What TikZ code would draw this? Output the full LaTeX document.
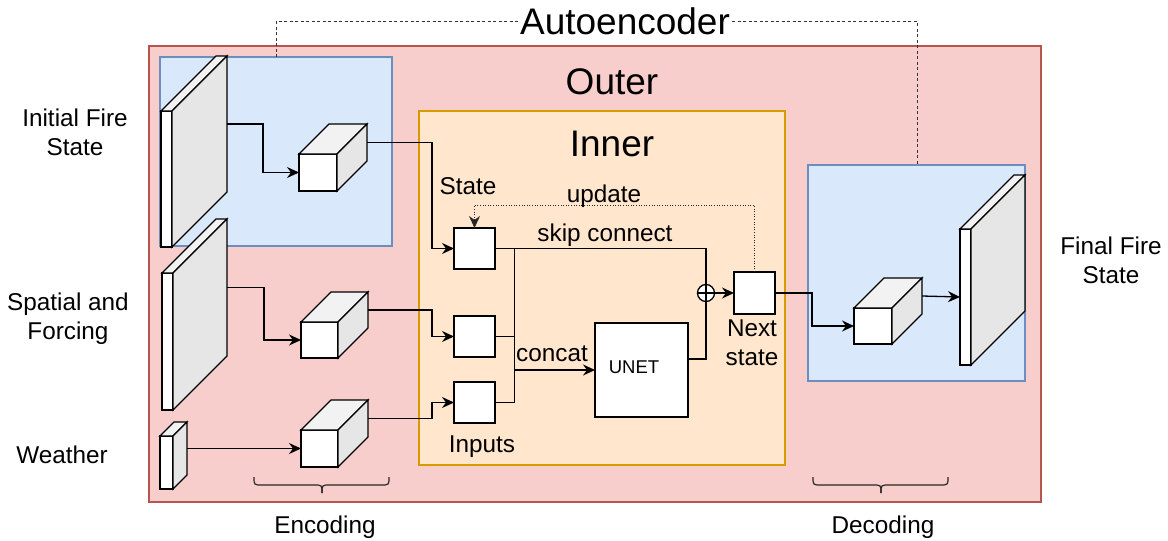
\documentclass[tikz,border=0pt]{standalone}
\usepackage{fontspec}
\setmainfont{Liberation Sans}
\usetikzlibrary{arrows.meta}
\definecolor{redf}{HTML}{F8CECC}
\definecolor{redd}{HTML}{B85450}
\definecolor{bluef}{HTML}{DAE8FC}
\definecolor{blued}{HTML}{6C8EBF}
\definecolor{orf}{HTML}{FFE6CC}
\definecolor{ord}{HTML}{D79B00}
\definecolor{topc}{HTML}{F2F2F2}
\definecolor{sidec}{HTML}{E6E6E6}
\newcommand\boxfaces[2]{%
  \filldraw[topface] (#1.north west) -- ++(#2,-#2) -- ([shift={(#2,-#2)}]#1.north east) -- (#1.north east) -- cycle;
  \filldraw[sideface] (#1.north east) -- ([shift={(#2,-#2)}]#1.north east) -- ([shift={(#2,-#2)}]#1.south east) -- (#1.south east) -- cycle;
  \coordinate (#1r) at ([shift={(#2,-#2)}]#1.east);
}
\begin{document}
\begin{tikzpicture}[x=1pt,y=-1pt,
  lw/.style={line width=1.3pt},
  region/.style={line width=1.1pt, inner sep=0, outer sep=0},
  frontface/.style={draw=black, fill=white, lw, inner sep=0, outer sep=0},
  fsz/.style 2 args={minimum width=#1pt, minimum height=#2pt},
  topface/.style={draw=black, fill=topc, lw},
  sideface/.style={draw=black, fill=sidec, lw},
  sq/.style={draw=black, fill=white, lw, inner sep=0, outer sep=0, minimum width=41pt, minimum height=41pt},
  conn/.style={lw, draw=black},
  tip/.style={-{Stealth[length=12pt,width=11pt,inset=4pt]}},
  arr/.style={lw, draw=black, tip},
  lbl/.style={font=\fontsize{24.3}{29}\selectfont, align=center, inner sep=0},
  lbl1/.style={font=\fontsize{24.3}{29}\selectfont, inner sep=0, text height=17.5pt, text depth=0pt},
  big/.style={font=\fontsize{37}{40}\selectfont, inner sep=0, text height=26.5pt, text depth=0pt},
  brace/.style={line width=1.2pt, draw=black!85}
]
\useasboundingbox (0,0) rectangle (1168,541);

% regions
\filldraw[region, fill=redf, draw=redd] (149,46) rectangle (1041,502);
\filldraw[region, fill=bluef, draw=blued] (160,57) rectangle (392,246);
\filldraw[region, fill=bluef, draw=blued] (808,165) rectangle (1025,381);
\filldraw[region, fill=orf, draw=ord] (419,111) rectangle (785,465);

% autoencoder bracket
\node[big, inner sep=2pt] (tae) at (625,21) {Autoencoder};
\draw[line width=1pt, draw=black!80, dash pattern=on 3pt off 2.5pt] (276,57) -- (276,21) -- (tae.west);
\draw[line width=1pt, draw=black!80, dash pattern=on 3pt off 2.5pt] (tae.east) -- (917,21) -- (917,165);

% slabs and cubes
\node[frontface, fsz={11}{136}] (s1) at (166.5,179) {};
\boxfaces{s1}{55}
\node[frontface, fsz={11}{137}] (s2) at (167.5,341.5) {};
\boxfaces{s2}{54}
\node[frontface, fsz={13}{53}] (s3) at (166.5,462.5) {};
\boxfaces{s3}{14}
\node[frontface, fsz={38}{37}] (c1) at (318,172.5) {};
\boxfaces{c1}{30}
\node[frontface, fsz={37}{36}] (c2) at (319.5,340) {};
\boxfaces{c2}{30}
\node[frontface, fsz={37}{37}] (c3) at (319.5,448.5) {};
\boxfaces{c3}{30}
\node[frontface, fsz={38}{36}] (dc) at (873,326) {};
\boxfaces{dc}{30}
\node[frontface, fsz={11}{136}] (fs) at (965.5,297) {};
\boxfaces{fs}{54}

% inner blocks
\node[sq] (b1) at (474.5,248.5) {};
\node[sq] (b2) at (474.5,336.5) {};
\node[sq] (b3) at (474.5,402.5) {};
\node[draw=black, fill=white, lw, inner sep=0, outer sep=0, minimum width=93pt, minimum height=94pt] (unet) at (641.5,370) {};
\node[font=\fontsize{18.5}{20}\selectfont, inner sep=0, text height=13.3pt, text depth=0pt] (tunet) at (634,367) {UNET};
\node[sq, minimum height=42pt] (nx) at (754.5,293) {};
\node[circle, draw=black, fill=white, lw, inner sep=0, minimum size=17pt] (plus) at (706,293) {};
\draw[conn] (plus.north) -- (plus.south) (plus.west) -- (plus.east);

% encoder connectors
\draw[arr] (s1r) -- ++(36,0) |- (c1.west);
\draw[arr] (s2r) -- ++(37,0) |- (c2.west);
\draw[arr] (s3r) -- (c3.west);
\draw[arr] (c1r) -- ++(65,0) |- (b1.west);
\draw[arr] (c2r) -- ++(64,0) |- (b2.west);
\draw[arr] (c3r) -- ++(64,0) |- (b3.west);

% merge and concat
\coordinate (mtop) at ([xshift=19.5pt]b1.east);
\coordinate (mbot) at ([xshift=19.5pt]b3.east);
\draw[conn] (b1.east) -- (mtop) -- (mbot) -- (b3.east);
\draw[conn] (b2.east) -- (b2.east -| mtop);
\draw[arr] (mtop |- unet.west) -- (unet.west);

% skip connect and output
\draw[conn] (b1.east) -| (plus.north);
\draw[conn] ([yshift=11pt]unet.east) -| (plus.south);
\draw[arr] (plus.east) -- (nx.west);
\draw[line width=1pt, draw=black!85, dash pattern=on 1pt off 1.6pt, tip] (nx.north) -- ++(0,-67) -| (b1.north);

% decoder connectors
\draw[arr] (nx.east) -- ++(37,0) |- (dc.west);
\draw[arr] (dcr) -- (fs.west);

% braces
\draw[brace] (254,477) .. controls (254,485) .. (262,485) -- (314,485) .. controls (322,485) .. (322,493);
\draw[brace] (322,493) .. controls (322,485) .. (330,485) -- (381,485) .. controls (389,485) .. (389,477);
\draw[brace] (813,477) .. controls (813,485) .. (821,485) -- (873,485) .. controls (881,485) .. (881,493);
\draw[brace] (881,493) .. controls (881,485) .. (889,485) -- (940,485) .. controls (948,485) .. (948,477);

% labels
\node[lbl] (tinit) at (75,132.5) {Initial Fire\\State};
\node[lbl] (tsp) at (68,318.5) {Spatial and\\Forcing};
\node[lbl1] (tw) at (62,455) {Weather};
\node[lbl] (tfin) at (1111,260.5) {Final Fire\\State};
\node[lbl1] (tenc) at (325,525) {Encoding};
\node[lbl1] (tdec) at (883,525) {Decoding};
\node[big] (tout) at (612,81) {Outer};
\node[big] (tin) at (612,143) {Inner};
\node[lbl1] (tstate) at (468,186) {State};
\node[lbl1] (tupd) at (604,194) {update};
\node[lbl1] (tskip) at (605,233) {skip connect};
\node[lbl1] (tcat) at (552,353) {concat};
\node[lbl1] (tinp) at (482,444) {Inputs};
\node[lbl] (tnext) at (752,343) {Next\\state};
\end{tikzpicture}
\end{document}
